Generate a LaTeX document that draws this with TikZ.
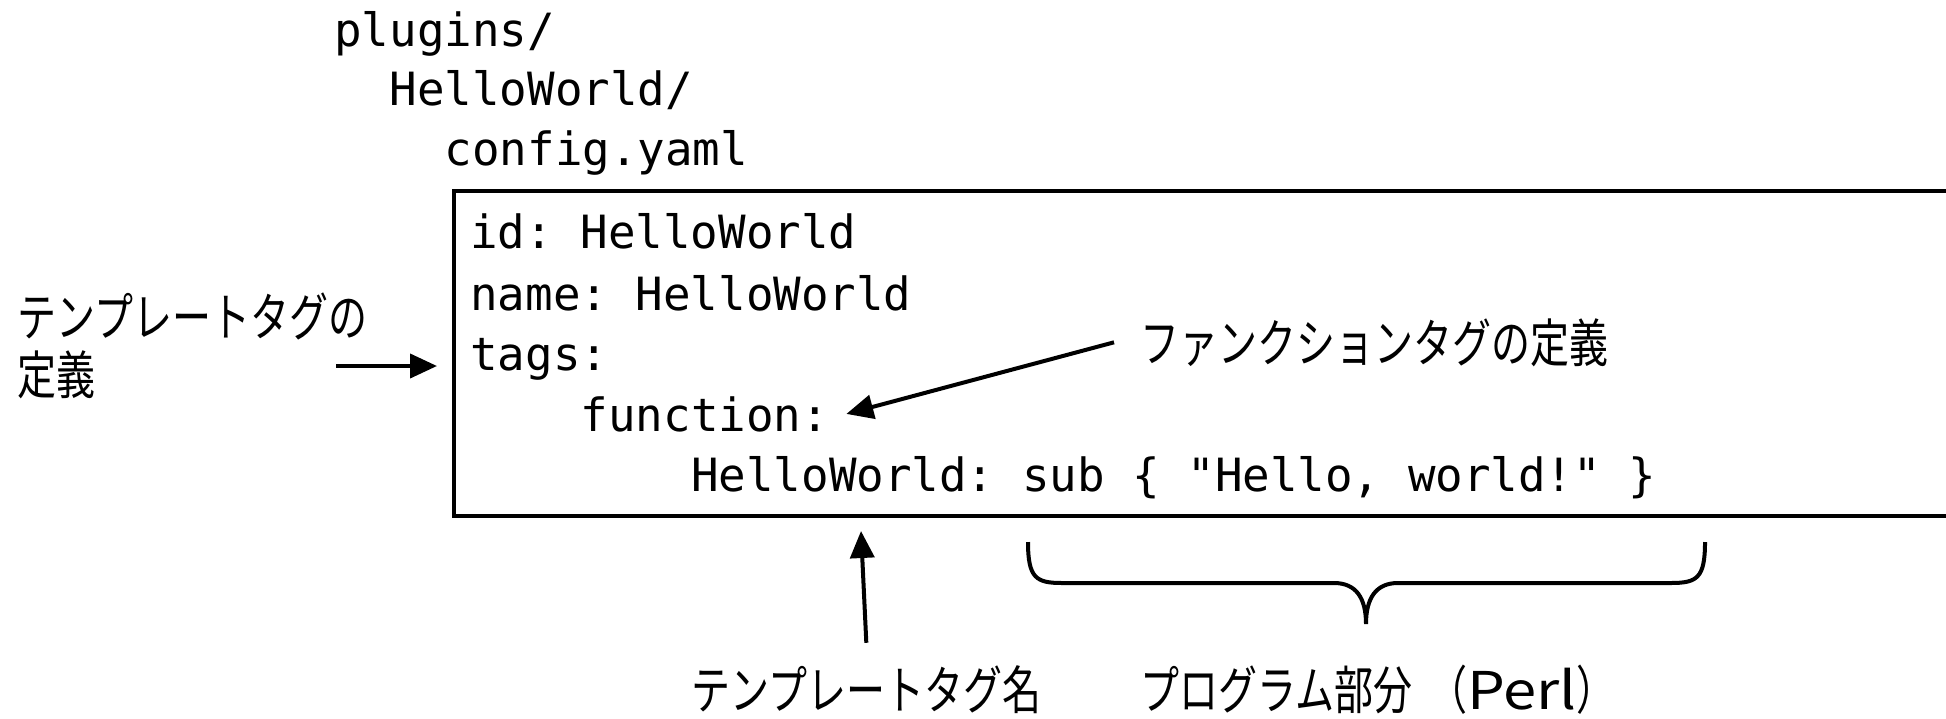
\documentclass[tikz,border=0pt]{standalone}
\usepackage{fontspec}
\usetikzlibrary{arrows.meta}
\setmonofont{DejaVu Sans Mono}
\newfontfamily\jpfont[FakeStretch=0.75]{Noto Sans CJK JP}
\newfontfamily\jpwide[FakeStretch=1.15]{Noto Sans CJK JP}
\definecolor{color_ink}{HTML}{000000}
\def\codesize{\fontsize{22.9}{27}\selectfont}
\def\jpsize{\fontsize{26}{31}\selectfont}
\def\codechar{27.6}
\def\dirleft{334}
\def\codeleft{470}

\begin{document}
\begin{tikzpicture}[x=0.5pt,y=-0.5pt,
    code_line/.style={anchor=base west,inner sep=0pt,font=\ttfamily\codesize,color_ink},
    jp_label/.style={anchor=base west,inner sep=0pt,font=\jpfont\jpsize,color_ink},
    pointer/.style={color_ink,line width=2pt,-{Triangle[length=13.5pt,width=12pt]}}]
        \useasboundingbox (0,0) rectangle (1946,718);
        % directory path
        \node[code_line] (dir_plugins) at (\dirleft,46) {plugins/};
        \node[code_line] (dir_hello) at (\dirleft+2*\codechar,105) {HelloWorld/};
        \node[code_line] (dir_config) at (\dirleft+4*\codechar,165) {config.yaml};
        % the file, cut off at the right
        \coordinate (box_nw) at (454,191);
        \coordinate (box_sw) at (454,516);
        \draw[color_ink,line width=2pt] (1960,191) -- (box_nw) -- (box_sw) -- (1960,516);
        \node[code_line] (line_id) at (\codeleft,248) {id: HelloWorld};
        \node[code_line] (line_name) at (\codeleft,310) {name: HelloWorld};
        \node[code_line] (line_tags) at (\codeleft,370) {tags:};
        \node[code_line] (line_func) at (\codeleft+4*\codechar,431) {function:};
        \node[code_line] (line_sub) at (\codeleft+8*\codechar,491) {HelloWorld: sub \{ "Hello, world!" \}};
        % labels
        \node[jp_label] (tmpl_def_a) at (17,336) {テンプレートタグの};
        \node[jp_label] (tmpl_def_b) at (17,394) {定義};
        \node[jp_label] (func_def) at (1140,362) {ファンクションタグの定義};
        \node[jp_label] (tag_name) at (691,709) {テンプレートタグ名};
        \node[jp_label] (prog_part) at (1140,709) {プログラム部分\hspace{8pt}（{\jpwide Perl}）};
        % pointers
        \coordinate (tmpl_def_tail) at (336,366);
        \coordinate (tmpl_def_tip) at (437,366);
        \coordinate (tag_name_tip) at (861,531);
        \draw[pointer] (tmpl_def_tail) -- (tmpl_def_tip);
        \draw[pointer] ([xshift=-13pt]func_def.west) -- ([xshift=8.5pt]line_func.east);
        \draw[pointer] ([yshift=11pt]tag_name.north) -- (tag_name_tip);
        % brace over the perl code
        \draw[color_ink,line width=2pt] (1028,542) .. controls (1028,578) and (1036,583) .. (1062,583)
            -- (1334,583) .. controls (1356,583) and (1366,598) .. (1366,624)
            .. controls (1366,598) and (1376,583) .. (1398,583)
            -- (1671,583) .. controls (1697,583) and (1705,578) .. (1705,542);
    \end{tikzpicture}
\end{document}
